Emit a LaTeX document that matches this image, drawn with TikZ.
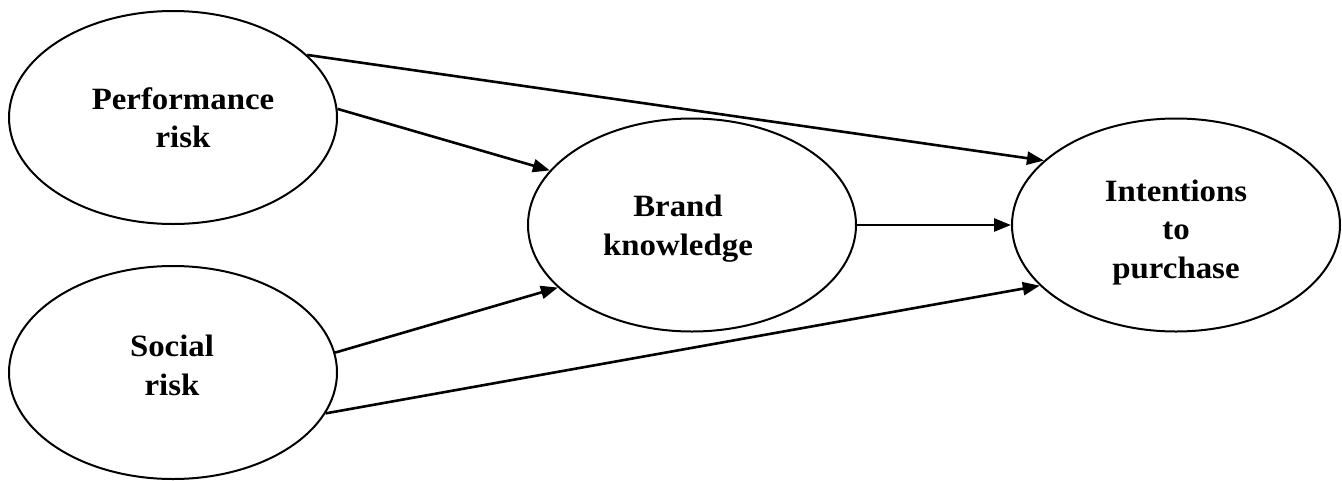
\documentclass[tikz,border=0pt]{standalone}
\usepackage{fontspec}
\setmainfont{Liberation Serif}[FakeStretch=1.06]
\usetikzlibrary{shapes.geometric,arrows.meta}
\begin{document}
\begin{tikzpicture}[x=1pt,y=-1pt,
  ell/.style={draw, ellipse, line width=2pt, minimum width=328pt, minimum height=213pt, inner sep=0pt},
  lbl/.style={align=center, font=\fontsize{31}{38.5}\selectfont\bfseries, anchor=base, inner sep=0pt},
  arr/.style={line width=2.6pt, -{Triangle[length=17pt,width=13pt]}}]
\useasboundingbox (0,0) rectangle (1342,480);
\node[ell] (perf) at (173,117.5) {};
\node[ell] (soc) at (173,372.5) {};
\node[ell] (brand) at (692,225) {};
\node[ell] (intent) at (1176,225) {};
\node[lbl] (perft) at (183,147.5) {Performance\\risk};
\node[lbl] (soct) at (172,395) {Social\\risk};
\node[lbl] (brandt) at (678,255) {Brand\\knowledge};
\node[lbl] (intentt) at (1176,278) {Intentions\\to\\purchase};
\draw[arr] (perf.25.9) -- (intent.154.5);
\draw[arr] (perf.3.6) -- (brand.159.5);
\draw[arr] (soc.7.3) -- (brand.205.5);
\draw[arr] (soc.-15.9) -- (intent.204.9);
\draw[arr] (brand.0) -- (intent.180);
\end{tikzpicture}
\end{document}
